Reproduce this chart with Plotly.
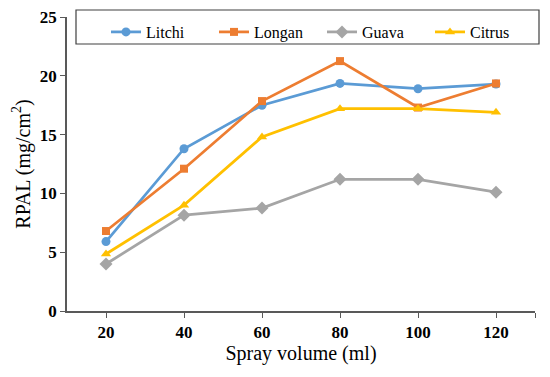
import plotly.graph_objects as go

spray_volume = [20, 40, 60, 80, 100, 120]
litchi = [5.9, 13.8, 17.5, 19.35, 18.9, 19.3]
longan = [6.8, 12.1, 17.85, 21.25, 17.3, 19.35]
guava = [4.0, 8.15, 8.75, 11.2, 11.2, 10.1]
citrus = [4.85, 9.0, 14.8, 17.2, 17.2, 16.9]
x_ticks = [20, 40, 60, 80, 100, 120]
y_ticks = [0, 5, 10, 15, 20, 25]

series = [
    ("Litchi", litchi, "#5B9BD5", "circle", 9),
    ("Longan", longan, "#ED7D31", "square", 8),
    ("Guava", guava, "#A5A5A5", "diamond", 10),
    ("Citrus", citrus, "#FFC000", "triangle-up", 9),
]

fig = go.Figure()
for name, vals, color, sym, size in series:
    fig.add_trace(go.Scatter(
        x=spray_volume, y=vals, name=name, mode="lines+markers",
        line=dict(color=color, width=2.75),
        marker=dict(symbol=sym, size=size, color=color),
    ))

# page body has an 8px default margin; work in viewport pixels
OFF = 8
W, H = 550, 377
vL, vR, vT, vB = 67, 535, 17, 311  # plot area in viewport pixels
L = vL - OFF
T = vT - OFF
R = W - (vR - OFF)
B = H - (vB - OFF)
pw = vR - vL
ph = vB - vT

def px_x(p):
    return (p - vL) / pw

def px_y(p):
    return (vB - p) / ph

fig.add_shape(type="rect", xref="paper", yref="paper",
              x0=px_x(76), x1=px_x(539), y0=px_y(44), y1=px_y(10),
              line=dict(color="#404040", width=1.2), fillcolor="white", layer="below")

fig.update_layout(
    width=W, height=H,
    margin=dict(l=L, r=R, t=T, b=B, autoexpand=False),
    paper_bgcolor="white", plot_bgcolor="white",
    font=dict(family="Liberation Serif", color="black"),
    showlegend=True,
    legend=dict(orientation="h", x=px_x(106), y=px_y(15), xanchor="left", yanchor="top",
                font=dict(size=16, family="Liberation Serif", color="black"),
                bgcolor="rgba(0,0,0,0)", borderwidth=0,
                entrywidth=63, entrywidthmode="pixels", tracegroupgap=0),
    xaxis=dict(
        range=[10, 130],
        tickvals=x_ticks,
        ticktext=[f"<b>{v}</b>" for v in x_ticks],
        ticks="outside", ticklen=5, tickcolor="#595959",
        minor=dict(tickvals=[130], ticks="outside", ticklen=5, tickcolor="#595959"),
        showline=True, linecolor="#595959", linewidth=1.5,
        showgrid=False, zeroline=False, automargin=False,
        ticklabeloverflow="allow",
        tickfont=dict(size=17, family="Liberation Serif", color="black"),
        title=dict(text="Spray volume (ml)", font=dict(size=20, family="Liberation Serif", color="black"), standoff=3),
    ),
    yaxis=dict(
        range=[0, 25],
        tickvals=y_ticks,
        ticktext=[f"<b>{v}</b>" for v in y_ticks],
        ticks="outside", ticklen=5, tickcolor="#595959",
        showline=True, linecolor="#595959", linewidth=1.5,
        showgrid=False, zeroline=False, automargin=False,
        ticklabeloverflow="allow",
        tickfont=dict(size=17, family="Liberation Serif", color="black"),
        title=dict(text="RPAL (mg/cm<sup>2</sup>)", font=dict(size=20, family="Liberation Serif", color="black"), standoff=4),
    ),
)

fig.write_html("out.html")
